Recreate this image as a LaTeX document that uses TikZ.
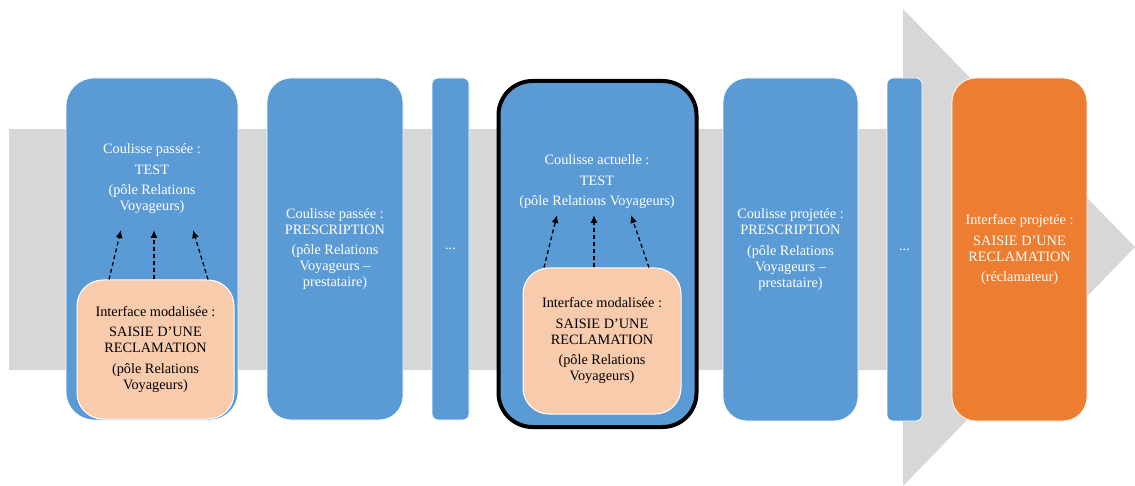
\documentclass[tikz,border=0pt]{standalone}
\usepackage{fontspec}
\setmainfont{Liberation Serif}
\usetikzlibrary{arrows.meta,calc}
\definecolor{ablue}{HTML}{5B9BD5}
\definecolor{apeach}{HTML}{F8CBAD}
\definecolor{aorange}{HTML}{ED7D31}
\definecolor{agray}{HTML}{D7D7D7}
\begin{document}
\begin{tikzpicture}[x=1pt,y=-1pt,
  stagebox/.style={rounded corners=#1, fill=ablue, draw=white, line width=0.8pt, inner sep=0pt, align=center, text=white},
  stagebox/.default=24pt,
  peachbox/.style={rounded corners=26pt, fill=apeach, draw=white, line width=1pt, inner sep=0pt, align=center, text=black},
  txt/.style={font=\fontsize{14.3}{16}\selectfont, align=center},
  dasharrow/.style={draw=black, line width=1.3pt, dash pattern=on 4pt off 3pt, -{Latex[length=8pt,width=7pt]}}
]
\useasboundingbox (0,0) rectangle (1135,486);
% big gray arrow
\fill[agray] (9,129) -- (903,129) -- (903,9) -- (1135,247) -- (903,486) -- (903,370) -- (9,370) -- cycle;

% box 1
\node[stagebox=28pt, minimum width=172pt, minimum height=342pt] (b1) at (152,249) {};
\node[txt, text=white] (t1) at (152,179) {Coulisse passée :\\[4.5pt] TEST\\[4.5pt] (pôle Relations\\ Voyageurs)};
\node[peachbox, minimum width=157pt, minimum height=139pt, txt] (p1) at (155.5,349.5) {Interface modalisée :\\[4.5pt] SAISIE D’UNE\\ RECLAMATION\\[4.5pt] (pôle Relations\\ Voyageurs)};
\coordinate (e1a) at (121,230);
\coordinate (e1b) at (154,230);
\coordinate (e1c) at (193,230);
\draw[dasharrow] ([xshift=-46.5pt]p1.north) -- (e1a);
\draw[dasharrow] ([xshift=-1.5pt]p1.north) -- (e1b);
\draw[dasharrow] ([xshift=52.5pt]p1.north) -- (e1c);

% box 2
\node[stagebox=24pt, minimum width=136pt, minimum height=342pt, txt, text=white] (b2) at (335,249) {Coulisse passée :\\ PRESCRIPTION\\[4.5pt] (pôle Relations\\ Voyageurs –\\ prestataire)};

% box 3
\node[stagebox=6pt, minimum width=37pt, minimum height=342pt, txt, text=white] (b3) at (450.5,249) {...};

% box 4 (current)
\node[rounded corners=34pt, fill=ablue, draw=black, line width=4pt, minimum width=198pt, minimum height=346pt, inner sep=0pt] (b4) at (597.5,254) {};
\node[txt, text=white] (t4) at (597,182) {Coulisse actuelle :\\[4.5pt] TEST\\[4.5pt] (pôle Relations Voyageurs)};
\node[peachbox, minimum width=158pt, minimum height=146pt, txt] (p4) at (602,341) {Interface modalisée :\\[4.5pt] SAISIE D’UNE\\ RECLAMATION\\[4.5pt] (pôle Relations\\ Voyageurs)};
\coordinate (e4a) at (557,215);
\coordinate (e4b) at (594,215);
\coordinate (e4c) at (631,215);
\draw[dasharrow] ([xshift=-58pt]p4.north) -- (e4a);
\draw[dasharrow] ([xshift=-8pt]p4.north) -- (e4b);
\draw[dasharrow] ([xshift=47pt]p4.north) -- (e4c);

% box 5
\node[stagebox=24pt, minimum width=135pt, minimum height=343pt, txt, text=white] (b5) at (790.5,249.5) {Coulisse projetée :\\ PRESCRIPTION\\[4.5pt] (pôle Relations\\ Voyageurs –\\ prestataire)};

% box 6
\node[stagebox=6pt, minimum width=35pt, minimum height=343pt, txt, text=white] (b6) at (904.5,249.5) {...};

% box 7
\node[stagebox=24pt, fill=aorange, minimum width=135pt, minimum height=343pt, txt, text=white] (b7) at (1019.5,249.5) {Interface projetée :\\[4.5pt] SAISIE D’UNE\\ RECLAMATION\\[4.5pt] (réclamateur)};
\end{tikzpicture}
\end{document}
